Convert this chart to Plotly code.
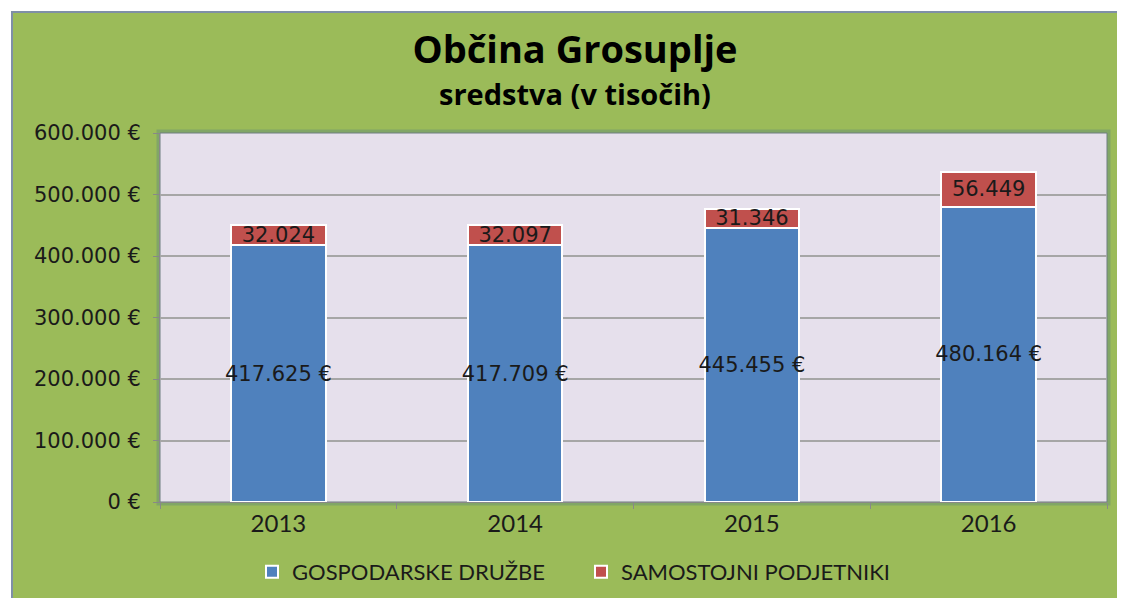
import plotly.graph_objects as go

years = ["2013", "2014", "2015", "2016"]
druzbe = [417625, 417709, 445455, 480164]
podjetniki = [32024, 32097, 31346, 56449]
y_ticks = [0, 100000, 200000, 300000, 400000, 500000, 600000]

BLUE = "#4F81BD"
RED = "#C0504D"
GREEN = "#9BBB59"
LAV = "#E6E0EC"
HUM = "Open Sans, Lato, Arial"
CAL = "Lato, Open Sans, Arial"
VERD = "DejaVu Sans, Verdana"

def fmt(v):
    return f"{v:,}".replace(",", ".")

fig = go.Figure()
fig.add_trace(go.Bar(
    x=years, y=druzbe, name="GOSPODARSKE DRUŽBE",
    marker=dict(color=BLUE, line=dict(color="white", width=2)),
    text=[fmt(v) + " €" for v in druzbe], textposition="inside",
    insidetextanchor="middle", constraintext="none", textangle=0,
    textfont=dict(family=VERD, size=21, color="#1a1a1a"),
))
fig.add_trace(go.Bar(
    x=years, y=podjetniki, name="SAMOSTOJNI PODJETNIKI",
    marker=dict(color=RED, line=dict(color="white", width=2)),
    text=[fmt(v) for v in podjetniki], textposition="inside",
    insidetextanchor="middle", constraintext="none", textangle=0,
    textfont=dict(family=VERD, size=21, color="#1a1a1a"),
))

# page body has an 8px margin, so target pixel positions are shifted by OFF
OFF = 8
W, H = 1125 - OFF, 598 - OFF
L, R, T, B = 160 - OFF, 1125 - 1107, 133 - OFF, 598 - 502
pw, ph = W - L - R, H - T - B

def px_x(x):
    return (x - OFF - L) / pw

def px_y(y):
    return (H - B - (y - OFF)) / ph

shapes = [
    dict(type="rect", xref="paper", yref="paper", layer="below",
         x0=px_x(12), x1=px_x(1140), y0=px_y(610), y1=px_y(12),
         fillcolor=GREEN, line=dict(color="#7F8FA6", width=2)),
    dict(type="rect", xref="paper", yref="paper", layer="below",
         x0=0, x1=1, y0=0, y1=1, fillcolor="rgba(0,0,0,0)",
         line=dict(color="rgba(80,130,125,0.35)", width=7)),
    dict(type="rect", xref="paper", yref="paper", layer="below",
         x0=0, x1=1, y0=0, y1=1, fillcolor=LAV,
         line=dict(color="#6F7F80", width=1)),
]

fig.update_layout(
    width=W, height=H,
    barmode="stack", bargap=0.6,
    paper_bgcolor="white", plot_bgcolor=LAV,
    margin=dict(l=L, r=R, t=T, b=B, autoexpand=False),
    shapes=shapes,
    title=dict(text="<b>Občina Grosuplje</b>", x=(575 - OFF) / W, xanchor="center",
               xref="container", y=1 - (50 - OFF) / H, yanchor="middle", yref="container",
               font=dict(family=HUM, size=38, color="black")),
    annotations=[dict(text="<b>sredstva (v tisočih)</b>", xref="paper", yref="paper",
                      x=px_x(575), y=px_y(93), showarrow=False,
                      xanchor="center", yanchor="middle",
                      font=dict(family=HUM, size=29, color="black"))],
    legend=dict(orientation="h", x=(252 - OFF) / W, xanchor="left", xref="container",
                y=1 - (572 - OFF) / H, yanchor="middle", yref="container",
                bgcolor="rgba(0,0,0,0)", entrywidth=284, entrywidthmode="pixels",
                font=dict(family=CAL, size=22, color="#1a1a1a"),
                traceorder="normal", itemwidth=30),
    xaxis=dict(showgrid=False, showline=True, linecolor="#888888", linewidth=1,
               ticks="outside", tickson="boundaries", ticklen=6, tickcolor="#888888",
               tickfont=dict(family=CAL, size=24, color="#1a1a1a"),
               automargin=False),
    yaxis=dict(range=[0, 600000], tickvals=y_ticks,
               ticktext=[fmt(v) + " €" for v in y_ticks],
               showgrid=True, gridcolor="#A6A6A6", gridwidth=1.5,
               showline=True, linecolor="#888888", ticks="outside", ticklen=6,
               tickcolor="#888888", zeroline=False, automargin=False,
               ticklabelstandoff=8,
               tickfont=dict(family=VERD, size=21, color="#1a1a1a")),
    showlegend=True,
)

fig.write_html("out.html")
